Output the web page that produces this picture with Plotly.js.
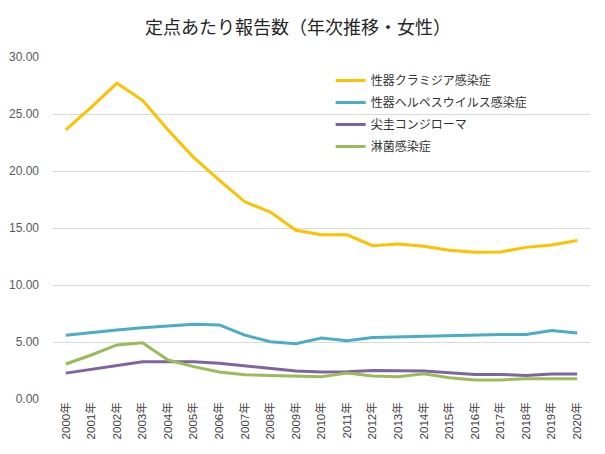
<!DOCTYPE html>
<html>
<head>
<meta charset="utf-8">
<script src="https://cdn.plot.ly/plotly-3.0.1.min.js"></script>
<style>html,body{margin:0;padding:0;background:#fff;}#chart{width:605px;height:454px;}</style>
</head>
<body>
<div id="chart"></div>
<script>
const years = ["2000年","2001年","2002年","2003年","2004年","2005年","2006年","2007年","2008年","2009年","2010年","2011年","2012年","2013年","2014年","2015年","2016年","2017年","2018年","2019年","2020年"];
const chlamydia = [23.6,25.6,27.7,26.2,23.6,21.2,19.2,17.3,16.4,14.8,14.4,14.4,13.45,13.6,13.4,13.05,12.87,12.9,13.3,13.5,13.9];
const herpes = [5.6,5.85,6.05,6.25,6.42,6.55,6.5,5.6,5.03,4.85,5.35,5.1,5.4,5.45,5.5,5.55,5.65,5.65,5.65,6.0,5.78];
const condyloma = [2.27,2.6,2.9,3.27,3.27,3.27,3.13,2.9,2.66,2.45,2.37,2.4,2.5,2.5,2.45,2.3,2.16,2.16,2.07,2.2,2.2];
const gonorrhea = [3.07,3.86,4.74,4.94,3.42,2.84,2.37,2.13,2.07,1.99,1.95,2.28,2.02,1.96,2.22,1.87,1.67,1.67,1.78,1.78,1.78];
const names = ["性器クラミジア感染症","性器ヘルペスウイルス感染症","尖圭コンジローマ","淋菌感染症"];
const colors = ["#FFC000","#4BACC6","#8064A2","#9BBB59"];
const series = [chlamydia, herpes, condyloma, gonorrhea];

const traces = series.map((s, i) => ({
  x: years, y: s, name: names[i], type: "scatter", mode: "lines",
  legendgroup: "g" + i,
  line: {color: colors[i], width: 3}
}));

const fontFam = "'Liberation Sans', 'Noto Sans CJK JP', sans-serif";
const layout = {
  width: 605, height: 454,
  margin: {l: 53, r: 15, t: 57, b: 55},
  paper_bgcolor: "#fff", plot_bgcolor: "#fff",
  font: {family: fontFam, color: "#595959", size: 12},
  title: {text: "定点あたり報告数（年次推移・女性）", x: 0.4926, xanchor: "center", y: 0.938, yanchor: "middle",
          font: {family: "'Noto Sans CJK JP', sans-serif", size: 18, color: "#262626"}},
  xaxis: {type: "category", tickangle: -90, showgrid: false, zeroline: false, showline: false,
          ticks: "", tickfont: {size: 11.5, color: "#404040"}, range: [-0.5, 20.5]},
  yaxis: {range: [0, 30], dtick: 5, tickformat: ".2f", showgrid: true, gridcolor: "#d9d9d9", gridwidth: 1,
          zeroline: false, showline: false, ticks: "", ticklabelstandoff: 13,
          tickfont: {size: 12, color: "#595959"}},
  showlegend: true,
  legend: {x: 0.517, y: 0.974, xanchor: "left", yanchor: "top", bgcolor: "rgba(0,0,0,0)",
           tracegroupgap: 3, font: {family: "'Noto Sans CJK JP', sans-serif", size: 12, color: "#333"}}
};
Plotly.newPlot("chart", traces, layout, {displayModeBar: false, staticPlot: true});
</script>
</body>
</html>
